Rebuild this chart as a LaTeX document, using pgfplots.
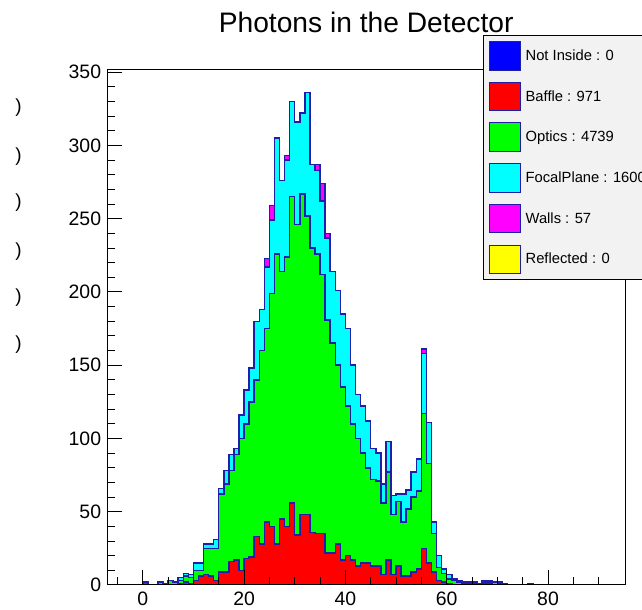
\documentclass[border=0pt]{standalone}
\usepackage{pgfplots}
\usepackage{pgfplotstable}
\pgfplotsset{compat=1.18}
\usepackage{fontspec}
\setmainfont{Liberation Sans}

\definecolor{histline}{RGB}{30,30,170}
\definecolor{legbg}{RGB}{242,242,242}
\definecolor{hblue}{RGB}{0,0,255}
\definecolor{hred}{RGB}{255,0,0}
\definecolor{hgreen}{RGB}{0,255,0}
\definecolor{hcyan}{RGB}{0,255,255}
\definecolor{hmagenta}{RGB}{255,0,255}
\definecolor{hyellow}{RGB}{255,255,0}

% Stacked photon counts per 1-unit bin (cumulative tops):
% B = Baffle, O = Baffle+Optics, F = ... +FocalPlane, W = ... +Walls
\pgfplotstableread{
x  B   O   F   W
0  2   2   2   2
1  0   0   0   0
2  0   0   0   0
3  0   2   2   2
4  0   1   1   1
5  0   3   3   3
6  0   2   2   2
7  1   3   5   5
8  2   6   8   8
9  1   5   7   7
10 3   10  15  15
11 6   10  15  15
12 7   25  28  28
13 6   25  28  28
14 3   25  31  31
15 9   62  66  66
16 9   69  78  78
17 16  78  89  89
18 17  89  93  93
19 10  100 116 116
20 18  110 133 133
21 19  125 148 148
22 33  140 180 180
23 28  160 188 188
24 43  175 217 223
25 40  199 249 259
26 28  226 305 305
27 45  214 276 276
28 40  224 290 293
29 56  265 330 330
30 34  246 316 316
31 48  267 322 322
32 48  252 336 336
33 36  230 287 287
34 35  226 283 287
35 35  212 262 274
36 22  181 237 240
37 22  165 214 214
38 28  150 201 201
39 17  135 185 185
40 20  122 175 175
41 17  110 150 150
42 13  100 130 130
43 15  90  122 122
44 15  80  112 112
45 13  72  93  93
46 13  71  90  90
47 7   56  69  69
48 17  77  98  98
49 7   48  61  61
50 13  57  62  62
51 6   43  62  62
52 6   52  65  65
53 9   60  77  77
54 11  64  86  86
55 25  117 158 161
56 15  83  111 111
57 9   35  43  43
58 3   12  20  20
59 2   8   11  11
60 1   4   7   7
61 0   3   4   4
62 0   2   3   3
63 0   1   2   2
64 0   1   2   2
65 0   1   2   2
66 0   1   1   1
67 1   2   3   3
68 1   2   3   3
69 0   2   2   2
70 0   1   2   2
71 0   0   1   1
72 0   0   0   0
73 0   0   0   0
74 0   0   0   0
75 0   0   0   0
76 0   0   1   1
77 0   0   0   0
78 0   0   0   0
}\photons

\begin{document}
\begin{tikzpicture}
\begin{axis}[
  at={(107.3bp,25bp)}, anchor=south west,
  scale only axis, width=517.7bp, height=515bp,
  xmin=-7, xmax=95.2, ymin=0, ymax=351.5,
  axis on top,
  axis line style={black, line width=1bp},
  tick style={black, line width=1bp},
  tick pos=left, tick align=inside,
  major tick length=15bp, minor tick length=8bp,
  xtick={0,20,...,80},
  minor xtick={-5,5,10,15,25,30,35,45,50,55,65,70,75,85,90},
  ytick={0,50,...,350},
  minor ytick={10,20,30,40,60,70,80,90,110,120,130,140,160,170,180,190,210,220,230,240,260,270,280,290,310,320,330,340},
  /pgf/number format/assume math mode=true,
  ticklabel style={font=\fontsize{19.5}{20}\selectfont, inner sep=0pt},
  xticklabel style={anchor=north, yshift=-7bp},
  yticklabel style={anchor=east, xshift=-6bp},
  title={Photons in the Detector},
  title style={at={(axis description cs:0.5,1.0616)}, anchor=base,
    font=\fontsize{28.3}{29}\selectfont, inner sep=0pt},
  legend style={at={(axis description cs:0.725,1.068)}, anchor=north west,
    fill=legbg, draw=black, line width=0.8bp,
    inner xsep=5.6bp, inner ysep=5.7bp, row sep=11.1bp, column sep=5bp,
    font=\fontsize{14.8}{15}\selectfont,
    nodes={inner sep=0pt, anchor=west}},
  legend cell align=left,
  legend image code/.code={%
    \draw[#1, line width=1bp] (0bp,-14.3bp) rectangle (31bp,14.3bp);},
  every axis plot/.append style={draw=histline, line width=1.5bp, line join=miter},
]
% legend swatches, in stack order
\addlegendimage{fill=hblue, draw=histline}
\addlegendentry{Not Inside : 0}
\addlegendimage{fill=hred, draw=histline}
\addlegendentry{Baffle : 971}
\addlegendimage{fill=hgreen, draw=histline}
\addlegendentry{Optics : 4739}
\addlegendimage{fill=hcyan, draw=histline}
\addlegendentry{FocalPlane : 1600}
\addlegendimage{fill=hmagenta, draw=histline}
\addlegendentry{Walls : 57}
\addlegendimage{fill=hyellow, draw=histline}
\addlegendentry{Reflected : 0}

% stack drawn from the top layer down
\addplot[const plot, fill=hmagenta, forget plot] table[x=x, y=W] {\photons} \closedcycle;
\addplot[const plot, fill=hcyan, forget plot] table[x=x, y=F] {\photons} \closedcycle;
\addplot[const plot, fill=hgreen, forget plot] table[x=x, y=O] {\photons} \closedcycle;
\addplot[const plot, fill=hred, forget plot] table[x=x, y=B] {\photons} \closedcycle;
\end{axis}

% clipped labels from the neighbouring pad
\foreach \yy in {502,453,407,358,312,265}
  \node[font=\fontsize{19}{20}\selectfont, inner sep=0pt] at (18.5bp,\yy bp) {)};

\pgfresetboundingbox
\path[use as bounding box] (0bp,0bp) rectangle (642bp,610bp);
\end{tikzpicture}
\end{document}
